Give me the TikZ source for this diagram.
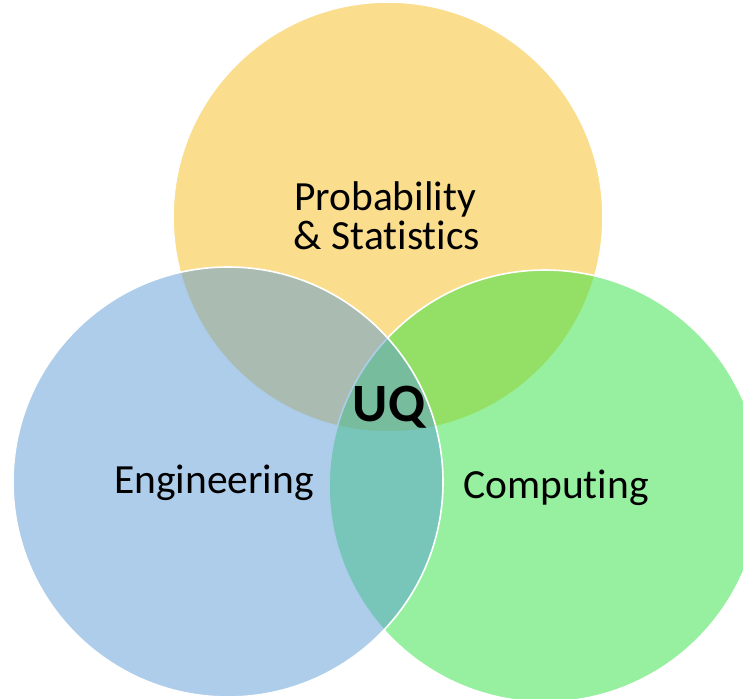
\documentclass[tikz,border=0pt]{standalone}
\usepackage{fontspec}
\setmainfont{Carlito}[Ligatures=NoCommon]
\definecolor{ucyellow}{RGB}{245,189,30}
\definecolor{ucblue}{RGB}{91,155,213}
\definecolor{ucgreen}{RGB}{47,226,63}
\begin{document}
\begin{tikzpicture}[x=1pt,y=-1pt,
  setcircle/.style={fill opacity=0.5, draw=white, draw opacity=1, line width=1.6pt},
  label/.style={anchor=base, inner sep=0pt, text=black, font=\fontsize{41.5}{41.5}\selectfont},
  core/.style={anchor=base, inner sep=0pt, text=black, font=\fontsize{54}{54}\selectfont\bfseries}]
\useasboundingbox (0,0) rectangle (743,698);
\clip (0,0) rectangle (743,698);
% the three sets, drawn back to front
\filldraw[setcircle, fill=ucyellow] (388,217) circle[radius=215];
\filldraw[setcircle, fill=ucgreen] (545,486) circle[radius=216];
\filldraw[setcircle, fill=ucblue] (228,482) circle[radius=215];
% labels
\node[label] (prob) at (385,210) {Probability};
\node[label] (stat) at (387,249) {\& Statistics};
\node[label] (eng) at (214,493) {Engineering};
\node[label] (comp) at (556,498) {Computing};
\node[core] (uq) at (389,421) {UQ};
\end{tikzpicture}
\end{document}
